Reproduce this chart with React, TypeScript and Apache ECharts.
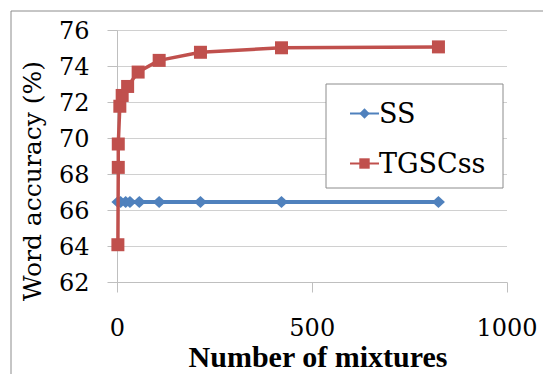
import React, { useEffect, useRef } from "react";
import * as echarts from "echarts";

const ssX = [1, 8, 21, 32, 56, 107, 213, 421, 824];
const ssY = [66.48, 66.48, 66.48, 66.48, 66.48, 66.48, 66.48, 66.48, 66.48];
const tgX = [1, 2, 2, 6, 12, 26, 53, 107, 213, 421, 824];
const tgY = [64.1, 68.4, 69.7, 71.8, 72.4, 72.9, 73.7, 74.35, 74.8, 75.05, 75.1];
const seriesNames = ["SS", "TGSCss"];
const xTitle = "Number of mixtures";
const yTitle = "Word accuracy (%)";

const SERIF = "DejaVu Serif";

export default function App() {
  const ref = useRef<HTMLDivElement>(null);
  useEffect(() => {
    if (!ref.current) return;
    const chart = echarts.init(ref.current, null, { renderer: "svg" });
    const axisGrey = "#bfbfbf";
    chart.setOption({
      animation: false,
      backgroundColor: "#fff",
      textStyle: { fontFamily: SERIF, fontWeight: "normal" },
      grid: { left: 117.5, right: 36, top: 30.7, bottom: 91.5 },
      xAxis: {
        type: "value",
        min: 0,
        max: 1000,
        interval: 500,
        axisLine: { show: true, lineStyle: { color: axisGrey, width: 1 } },
        axisTick: { show: true, length: 10, lineStyle: { color: axisGrey } },
        splitLine: { show: false },
        axisLabel: {
          margin: 34,
          color: "#000",
          fontFamily: SERIF,
          fontWeight: "normal",
          fontSize: 24,
          lineHeight: 22,
          formatter: (v: number) => String(v),
        },
      },
      yAxis: {
        type: "value",
        min: 62,
        max: 76,
        interval: 2,
        axisLine: { show: true, lineStyle: { color: axisGrey, width: 1 } },
        axisTick: { show: true, length: 10, lineStyle: { color: axisGrey } },
        splitLine: { show: true, lineStyle: { color: "#d0d0d0", width: 1 } },
        axisLabel: {
          margin: 28,
          color: "#000",
          fontFamily: SERIF,
          fontWeight: "normal",
          fontSize: 24,
        },
      },
      legend: {
        orient: "vertical",
        left: 344,
        top: 95,
        itemWidth: 29,
        itemHeight: 13,
        itemGap: 23,
        z: 5,
        textStyle: {
          fontFamily: SERIF,
          fontWeight: "normal",
          fontSize: 27,
          color: "#000",
          padding: [0, 0, 0, -5],
        },
        data: seriesNames,
      },
      graphic: [
        {
          type: "rect",
          z: 1,
          shape: { x: 326, y: 84, width: 177, height: 104 },
          style: { fill: "#fff", stroke: "#8c8c8c", lineWidth: 1 },
        },
        {
          type: "rect",
          z: 0,
          shape: { x: 11, y: 11, width: 600, height: 500 },
          style: { fill: "none", stroke: "#8c8c8c", lineWidth: 1 },
          silent: true,
        },
        {
          type: "text",
          x: 32,
          y: 181,
          rotation: Math.PI / 2,
          style: {
            text: yTitle,
            fontFamily: SERIF,
            fontWeight: "normal",
            fontSize: 25,
            fill: "#000",
            align: "center",
            verticalAlign: "middle",
          },
        },
        {
          type: "text",
          x: 318,
          y: 356,
          style: {
            text: xTitle,
            fontFamily: "Liberation Serif",
            fontWeight: "bold",
            fontSize: 30,
            lineHeight: 30,
            fill: "#000",
            align: "center",
            verticalAlign: "middle",
          },
        },
      ],
      series: [
        {
          name: seriesNames[0],
          type: "line",
          data: ssX.map((x, i) => [x, ssY[i]]),
          symbol: "diamond",
          symbolSize: [13, 12],
          itemStyle: { color: "#4F81BD" },
          lineStyle: { color: "#4F81BD", width: 4 },
          z: 2,
        },
        {
          name: seriesNames[1],
          type: "line",
          data: tgX.map((x, i) => [x, tgY[i]]),
          symbol: "rect",
          symbolSize: 13,
          itemStyle: { color: "#C0504D" },
          lineStyle: { color: "#C0504D", width: 3.5 },
          z: 3,
        },
      ],
    });
    return () => chart.dispose();
  }, []);
  return (
    <div
      ref={ref}
      style={{ position: "fixed", left: 0, top: 0, width: 543, height: 374 }}
    />
  );
}
